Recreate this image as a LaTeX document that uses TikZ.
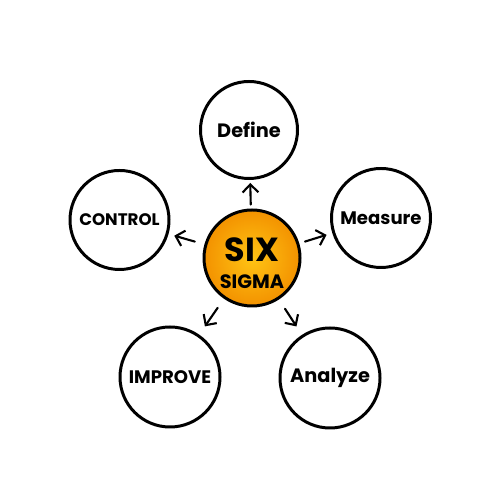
\documentclass[tikz,border=0pt]{standalone}
\usepackage{fontspec}
\setmainfont{Poppins}
\usetikzlibrary{arrows.meta}
\definecolor{sigin}{HTML}{FFC414}
\definecolor{sigout}{HTML}{F39200}
\tikzset{
  outer/.style={circle, draw=black, line width=1.7pt, minimum size=#1, inner sep=0pt, font=\bfseries},
  core/.style={circle, draw=black, line width=1.7pt, minimum size=1.92cm, inner sep=0pt, inner color=sigin, outer color=sigout},
  arr/.style={line width=1.2pt, line cap=round, -{Straight Barb[length=4.5pt,width=9pt,line width=1.2pt]}},
  lbl/.style={font=\bfseries\fontsize{#1}{13}\selectfont}
}
\begin{document}
\begin{tikzpicture}
\useasboundingbox (0,0) rectangle (10,10);
\node[core] (c) at (5.04,4.84) {};
\node[font=\bfseries\fontsize{19}{20}\selectfont] (six) at (5.04,5.0) {SIX};
\node[font=\bfseries\fontsize{11}{12}\selectfont] (sigma) at (5.04,4.36) {SIGMA};
\node[outer=1.94cm] (def) at (4.98,7.40) {};
\node[lbl=11] (deft) at (def) {Define};
\node[outer=1.98cm] (ctl) at (2.39,5.60) {};
\node[lbl=9.5] (ctlt) at (ctl) {CONTROL};
\node[outer=1.98cm] (mea) at (7.62,5.64) {};
\node[lbl=10.3] (meat) at (mea) {Measure};
\node[outer=2.0cm] (imp) at (3.40,2.46) {};
\node[lbl=10.3] (impt) at (imp) {IMPROVE};
\node[outer=2.0cm] (ana) at (6.60,2.44) {};
\node[lbl=11] (anat) at (ana) {Analyze};
\draw[arr, shorten <=0.08cm, shorten >=0.06cm] (c) -- (def);
\draw[arr, shorten <=0.2cm, shorten >=0.12cm] (c) -- (ctl);
\draw[arr, shorten <=0.12cm, shorten >=0.12cm] (c) -- (mea);
\draw[arr, shorten <=0.22cm, shorten >=0.2cm] (c) -- (imp);
\draw[arr, shorten <=0.22cm, shorten >=0.2cm] (c) -- (ana);
\end{tikzpicture}
\end{document}
